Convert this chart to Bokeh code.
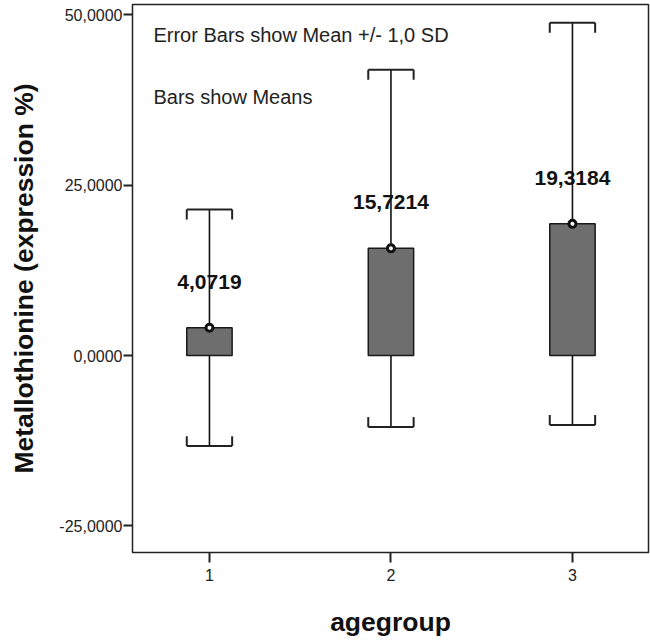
from bokeh.plotting import figure
from bokeh.models import ColumnDataSource, FixedTicker, Range1d, Label
from bokeh.embed import file_html
from bokeh.resources import INLINE
from bokeh.core.properties import value

# ---- data ----
groups = [1, 2, 3]
group_labels = ["1", "2", "3"]
means = [4.0719, 15.7214, 19.3184]
sds = [17.35, 26.2, 29.5]
mean_labels = ["4,0719", "15,7214", "19,3184"]
y_ticks = [-25, 0, 25, 50]
y_tick_labels = ["-25,0000", "0,0000", "25,0000", "50,0000"]

upper = [m + s for m, s in zip(means, sds)]
lower = [m - s for m, s in zip(means, sds)]

FONT = "Liberation Sans"
BAR_W = 0.25
HALF = BAR_W / 2
TICK = 1.45  # cap end tick length (data units)

src = ColumnDataSource(dict(
    x=groups, mean=means, upper=upper, lower=lower, label=mean_labels,
    left=[g - HALF for g in groups], right=[g + HALF for g in groups],
    up_end=[u - TICK for u in upper], lo_end=[l + TICK for l in lower],
))

p = figure(width=650, height=640, output_backend="svg", toolbar_location=None,
           x_range=Range1d(0.576, 3.419), y_range=Range1d(-28.9, 51.5),
           min_border_left=132, min_border_right=2, min_border_top=4,
           min_border_bottom=88)
p.background_fill_color = "white"
p.border_fill_color = "white"
p.xgrid.visible = False
p.ygrid.visible = False
p.outline_line_color = "#222222"
p.outline_line_width = 1.5

# error bar stems (drawn behind bars)
p.segment(x0="x", y0="lower", x1="x", y1="upper", source=src,
          line_color="#111111", line_width=1.6)
# bars
p.vbar(x="x", top="mean", bottom=0, width=BAR_W, source=src,
       fill_color="#6e6e6e", line_color="#1a1a1a", line_width=1.5)
# caps
p.segment(x0="left", y0="upper", x1="right", y1="upper", source=src,
          line_color="#222222", line_width=2)
p.segment(x0="left", y0="lower", x1="right", y1="lower", source=src,
          line_color="#222222", line_width=2)
p.segment(x0="left", y0="upper", x1="left", y1="up_end", source=src,
          line_color="#222222", line_width=2)
p.segment(x0="right", y0="upper", x1="right", y1="up_end", source=src,
          line_color="#222222", line_width=2)
p.segment(x0="left", y0="lower", x1="left", y1="lo_end", source=src,
          line_color="#222222", line_width=2)
p.segment(x0="right", y0="lower", x1="right", y1="lo_end", source=src,
          line_color="#222222", line_width=2)
# mean markers
p.scatter(x="x", y="mean", source=src, marker="circle", size=7,
          fill_color="white", line_color="#111111", line_width=3)
# mean value labels
p.text(x="x", y="mean", text="label", source=src, y_offset=-46,
       text_align="center", text_baseline="middle",
       text_font=value(FONT), text_font_style="bold",
       text_font_size="21px", text_color="#111111")

# annotations
p.add_layout(Label(x=0.6915, y=47.07, text="Error Bars show Mean +/- 1,0 SD",
                   text_font=FONT, text_font_size="20px", text_color="#222222",
                   text_baseline="middle", text_align="left"))
p.add_layout(Label(x=0.6915, y=37.98, text="Bars show Means",
                   text_font=FONT, text_font_size="20px", text_color="#222222",
                   text_baseline="middle", text_align="left"))

# axes
xa = p.xaxis[0]
xa.ticker = FixedTicker(ticks=groups)
xa.major_label_overrides = {g: l for g, l in zip(groups, group_labels)}
xa.axis_line_color = None
xa.major_tick_out = 10
xa.major_tick_in = 0
xa.major_tick_line_width = 2
xa.major_tick_line_color = "#222222"
xa.minor_tick_line_color = None
xa.major_label_standoff = 6
xa.major_label_text_font = FONT
xa.major_label_text_font_size = "16px"
xa.major_label_text_color = "#222222"
xa.axis_label = "agegroup"
xa.axis_label_text_font = FONT
xa.axis_label_text_font_style = "bold"
xa.axis_label_text_font_size = "26.5px"
xa.axis_label_text_color = "#111111"
xa.axis_label_standoff = 23

ya = p.yaxis[0]
ya.ticker = FixedTicker(ticks=y_ticks)
ya.major_label_overrides = {t: l for t, l in zip(y_ticks, y_tick_labels)}
ya.axis_line_color = None
ya.major_tick_out = 9
ya.major_tick_in = 0
ya.major_tick_line_width = 2
ya.major_tick_line_color = "#222222"
ya.minor_tick_line_color = None
ya.major_label_standoff = 1
ya.major_label_text_font = FONT
ya.major_label_text_font_size = "16px"
ya.major_label_text_color = "#222222"
ya.axis_label = "Metallothionine (expression %)"
ya.axis_label_text_font = FONT
ya.axis_label_text_font_style = "bold"
ya.axis_label_text_font_size = "26.5px"
ya.axis_label_text_color = "#111111"
ya.axis_label_standoff = 17

open("out.html", "w").write(file_html(p, INLINE))
